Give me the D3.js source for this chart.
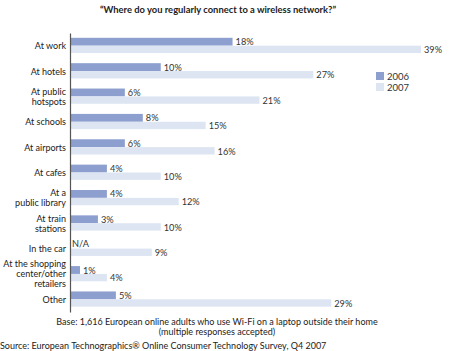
<!DOCTYPE html>
<html>
<head>
<meta charset="utf-8">
<script src="https://cdn.jsdelivr.net/npm/d3@7"></script>
<style>
  body { margin: 0; background: #fff; }
  svg { display: block; font-family: Lato, "Liberation Sans", sans-serif; }
</style>
</head>
<body>
<svg id="chart" width="450" height="351"></svg>
<script>
// Data
const categories = [
    'At work', 'At hotels', 'At public\nhotspots', 'At schools', 'At airports',
    'At cafes', 'At a\npublic library', 'At train\nstations', 'In the car',
    'At the shopping\ncenter/other\nretailers', 'Other'
];
const values2006 = [18, 10, 6, 8, 6, 4, 4, 3, null, 1, 5];
const values2007 = [39, 27, 21, 15, 16, 10, 12, 10, 9, 4, 29];
const seriesNames = ['2006', '2007'];
const colors = { '2006': '#8d9fcf', '2007': '#dde5f3' };

const svg = d3.select('#chart');

const data = categories.map((c, i) => ({
    cat: c,
    vals: [
        { key: '2006', v: values2006[i] },
        { key: '2007', v: values2007[i] }
    ]
}));

// Scales
const x = d3.scaleLinear().domain([0, 40]).range([71, 430]);
const y0 = d3.scaleBand()
    .domain(categories)
    .range([33, 312])
    .paddingInner(0.38)
    .paddingOuter(0.19);
const y1 = d3.scaleBand()
    .domain(seriesNames)
    .range([0, y0.bandwidth()]);

// Title
svg.append('text')
    .attr('x', 218)
    .attr('y', 13)
    .attr('text-anchor', 'middle')
    .style('font-size', '9.4px')
    .style('font-weight', '700')
    .style('fill', '#222')
    .text('\u201CWhere do you regularly connect to a wireless network?\u201D');

// Bars
const groups = svg.selectAll('.grp')
    .data(data)
    .enter()
    .append('g')
    .attr('class', 'grp')
    .attr('transform', d => `translate(0,${y0(d.cat)})`);

groups.selectAll('rect')
    .data(d => d.vals.filter(e => e.v !== null))
    .enter()
    .append('rect')
    .attr('x', x(0))
    .attr('y', d => y1(d.key))
    .attr('height', d => y1.bandwidth() - (d.key === '2007' ? 0.5 : 0))
    .attr('width', d => x(d.v) - x(0))
    .style('fill', d => colors[d.key]);

// Value labels
groups.selectAll('.val')
    .data(d => d.vals)
    .enter()
    .append('text')
    .attr('class', 'val')
    .attr('x', d => d.v === null ? x(0) + 1 : x(d.v) + 3)
    .attr('y', d => y1(d.key) + y1.bandwidth() / 2 + 3.5 - (d.v === null ? 1.5 : 0))
    .style('font-size', '9.2px')
    .style('fill', '#333')
    .text(d => d.v === null ? 'N/A' : d.v + '%');

// Category labels (multi-line)
groups.each(function(d) {
    const lines = d.cat.split('\n');
    const lh = 10;
    const cy = y0.bandwidth() / 2;
    const t = d3.select(this).append('text')
        .attr('text-anchor', 'end')
        .style('font-size', '9px')
        .style('fill', '#222');
    lines.forEach((ln, k) => {
        t.append('tspan')
            .attr('x', 66)
            .attr('y', cy + 3.5 + (k - (lines.length - 1) / 2) * lh)
            .text(ln);
    });
});

// Axis line
svg.append('g')
    .attr('transform', `translate(${x(0) - 1},0)`)
    .call(d3.axisLeft(y0).tickSize(0).tickFormat(''))
    .call(g => g.select('.domain').attr('stroke', '#555').attr('stroke-width', 1.2));

// Legend
const legend = svg.append('g').attr('transform', 'translate(376,72)');
seriesNames.forEach((s, i) => {
    legend.append('rect')
        .attr('x', 0)
        .attr('y', i * 11)
        .attr('width', 8)
        .attr('height', 8)
        .style('fill', colors[s]);
    legend.append('text')
        .attr('x', 11)
        .attr('y', i * 11 + 7.5)
        .style('font-size', '9.5px')
        .style('fill', '#333')
        .text(s);
});

// Footnotes
svg.append('text')
    .attr('x', 217)
    .attr('y', 325)
    .attr('text-anchor', 'middle')
    .style('font-size', '9px')
    .style('fill', '#222')
    .text('Base: 1,616 European online adults who use Wi-Fi on a laptop outside their home');
svg.append('text')
    .attr('x', 217)
    .attr('y', 335)
    .attr('text-anchor', 'middle')
    .style('font-size', '9px')
    .style('fill', '#222')
    .text('(multiple responses accepted)');
svg.append('text')
    .attr('x', 0)
    .attr('y', 349)
    .style('font-size', '9px')
    .style('fill', '#222')
    .text('Source: European Technographics\u00AE Online Consumer Technology Survey, Q4 2007');
</script>
</body>
</html>
